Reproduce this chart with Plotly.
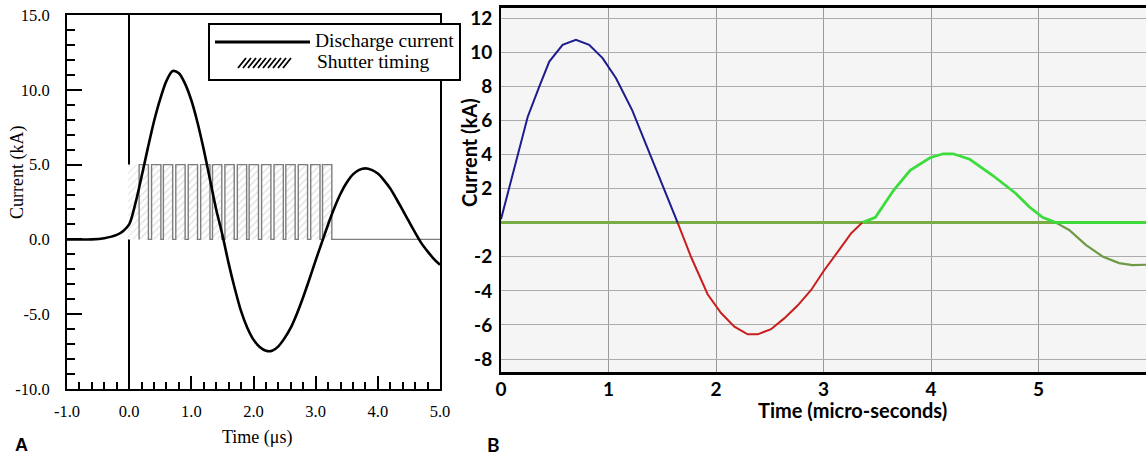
import plotly.graph_objects as go

W, H = 1146, 457

# ---------------- Panel A data ----------------
a_time = [-1.0, -0.8, -0.6, -0.4, -0.2, -0.1, 0.0, 0.1, 0.2, 0.3, 0.4, 0.5, 0.6, 0.7, 0.8, 0.9,
          1.0, 1.1, 1.2, 1.3, 1.4, 1.5, 1.6, 1.7, 1.8, 1.9, 2.0, 2.1, 2.2, 2.3, 2.4, 2.5,
          2.6, 2.7, 2.8, 2.9, 3.0, 3.1, 3.2, 3.3, 3.4, 3.5, 3.6, 3.7, 3.8, 3.9, 4.0, 4.1,
          4.2, 4.3, 4.4, 4.5, 4.6, 4.7, 4.8, 4.9, 5.0]
a_current = [0.0, 0.0, 0.0, 0.08, 0.3, 0.55, 1.0, 2.4, 4.2, 6.1, 7.9, 9.4, 10.6, 11.25, 11.1, 10.4,
             9.3, 7.8, 6.0, 4.0, 2.0, 0.3, -1.6, -3.3, -4.8, -5.9, -6.7, -7.2, -7.45, -7.45, -7.15, -6.6,
             -5.9, -4.95, -3.85, -2.65, -1.4, -0.2, 1.0, 2.1, 3.05, 3.8, 4.35, 4.65, 4.75, 4.65, 4.4, 3.95,
             3.4, 2.7, 1.95, 1.2, 0.45, -0.25, -0.8, -1.3, -1.7]
shutter_on = [0.16, 0.36, 0.55, 0.75, 0.95, 1.15, 1.34, 1.54, 1.74, 1.93, 2.13, 2.33, 2.52, 2.72, 2.92, 3.11]
shutter_off = [0.31, 0.51, 0.70, 0.90, 1.10, 1.30, 1.49, 1.69, 1.89, 2.08, 2.28, 2.48, 2.67, 2.87, 3.07, 3.26]
shutter_level = 5.0
shutter_lead = [-0.02, 0.16]
shutter_tail_end = 5.0

a_xticks = [-1.0, 0.0, 1.0, 2.0, 3.0, 4.0, 5.0]
a_xticktext = ["-1.0", "0.0", "1.0", "2.0", "3.0", "4.0", "5.0"]
a_yticks = [-10, -5, 0, 5, 10, 15]
a_yticktext = ["-10.0", "-5.0", "0.0", "5.0", "10.0", "15.0"]

# ---------------- Panel B data ----------------
b_blue_t = [0.0, 0.077, 0.155, 0.248, 0.356, 0.449, 0.573, 0.697, 0.82, 0.945, 1.07, 1.22, 1.47, 1.643]
b_blue_v = [0.2, 2.1, 4.07, 6.2, 7.98, 9.45, 10.43, 10.72, 10.43, 9.65, 8.47, 6.6, 2.7, 0.0]
b_red_t = [1.643, 1.767, 1.922, 2.047, 2.171, 2.295, 2.388, 2.512, 2.637, 2.761, 2.885, 3.0, 3.134, 3.258, 3.36]
b_red_v = [0.0, -2.0, -4.2, -5.3, -6.1, -6.55, -6.55, -6.25, -5.6, -4.85, -3.95, -2.85, -1.7, -0.62, 0.0]
b_green_t = [3.36, 3.483, 3.652, 3.806, 3.991, 4.114, 4.206, 4.36, 4.572, 4.789, 4.913, 5.037, 5.161, 6.0]
b_green_v = [0.0, 0.31, 1.9, 3.07, 3.81, 4.04, 4.04, 3.72, 2.78, 1.71, 0.93, 0.31, 0.0, 0.0]
b_olive_t = [5.161, 5.285, 5.44, 5.595, 5.75, 5.874, 6.0]
b_olive_v = [0.0, -0.43, -1.3, -1.98, -2.37, -2.49, -2.47]

b_xticks = [0, 1, 2, 3, 4, 5]
b_xticktext = ["0", "1", "2", "3", "4", "5"]
b_yticks = [-8, -6, -4, -2, 2, 4, 6, 8, 10, 12]
b_yticktext = ["-8", "-6", "-4", "-2", "2", "4", "6", "8", "10", "12"]


def px(x):
    return x / W


def py(y):
    return 1 - y / H


SERIF = "Liberation Serif"
SANS = "Lato"

fig = go.Figure()

# shutter lead-in (hatched, no outline)
fig.add_trace(go.Scatter(
    x=[shutter_lead[0], shutter_lead[0], shutter_lead[1], shutter_lead[1], shutter_lead[0]],
    y=[0, shutter_level, shutter_level, 0, 0],
    mode="lines", line=dict(width=0, color="rgba(0,0,0,0)"),
    fill="toself", fillcolor="white",
    fillpattern=dict(shape="/", fgcolor="#d0d0d0", bgcolor="white", size=5, solidity=0.25),
    xaxis="x", yaxis="y", showlegend=False, hoverinfo="skip"))

# shutter timing square wave
sx, sy = [], []
for on, off in zip(shutter_on, shutter_off):
    sx += [on, on, off, off]
    sy += [0, shutter_level, shutter_level, 0]
sx.append(shutter_tail_end)
sy.append(0)
fig.add_trace(go.Scatter(
    x=sx, y=sy, mode="lines", name="Shutter timing",
    line=dict(color="#7d7d7d", width=1.4),
    fill="tozeroy", fillcolor="white",
    fillpattern=dict(shape="/", fgcolor="#c4c4c4", bgcolor="white", size=5, solidity=0.28),
    xaxis="x", yaxis="y", showlegend=False))

# discharge current
fig.add_trace(go.Scatter(
    x=a_time, y=a_current, mode="lines", name="Discharge current",
    line=dict(color="black", width=2.6, shape="spline", smoothing=0.8),
    xaxis="x", yaxis="y", showlegend=False))

# Panel B traces
fig.add_trace(go.Scatter(x=b_olive_t, y=b_olive_v, mode="lines",
                         line=dict(color="#6f9a45", width=2.2),
                         xaxis="x2", yaxis="y2", showlegend=False))
fig.add_trace(go.Scatter(x=b_green_t, y=b_green_v, mode="lines",
                         line=dict(color="#3ddc3d", width=2.8),
                         xaxis="x2", yaxis="y2", showlegend=False))
fig.add_trace(go.Scatter(x=b_red_t, y=b_red_v, mode="lines",
                         line=dict(color="#c81e1e", width=2),
                         xaxis="x2", yaxis="y2", showlegend=False))
fig.add_trace(go.Scatter(x=b_blue_t, y=b_blue_v, mode="lines",
                         line=dict(color="#1c1c8e", width=2),
                         xaxis="x2", yaxis="y2", showlegend=False))

serif_tick = dict(family=SERIF, size=16.5, color="black")
sans_tick = dict(family=SANS, size=19, color="black", weight="bold")

fig.update_layout(
    width=W, height=H, margin=dict(l=0, r=0, t=0, b=0, pad=0, autoexpand=False),
    paper_bgcolor="white", plot_bgcolor="white",
    xaxis=dict(domain=[px(67), px(440)], range=[-1, 5], showgrid=False, automargin=False,
               zeroline=True, zerolinecolor="black", zerolinewidth=1.8,
               showline=True, linecolor="black", linewidth=2, mirror=True,
               tickvals=a_xticks, ticktext=a_xticktext, ticks="inside", ticklen=13,
               tickwidth=1.5, tickcolor="black", tickfont=serif_tick, ticklabelstandoff=6,
               minor=dict(dtick=0.2, tick0=-1, ticks="inside", ticklen=7, tickwidth=1.5,
                          tickcolor="black", showgrid=False)),
    yaxis=dict(domain=[py(389), py(15)], range=[-10, 15], showgrid=False, zeroline=False,
               automargin=False,
               showline=True, linecolor="black", linewidth=2, mirror=True,
               tickvals=a_yticks, ticktext=a_yticktext, ticks="inside", ticklen=15,
               tickwidth=1.5, tickcolor="black", tickfont=serif_tick, ticklabelstandoff=12,
               minor=dict(dtick=1, tick0=0, ticks="inside", ticklen=8, tickwidth=1.5,
                          tickcolor="black", showgrid=False)),
    xaxis2=dict(domain=[px(501), 1.0], range=[0, 6], anchor="y2", automargin=False,
                showgrid=True, gridcolor="#9a9a9a", gridwidth=1, zeroline=False,
                showline=True, linecolor="black", linewidth=3, mirror=True,
                tickvals=b_xticks, ticktext=b_xticktext, ticks="",
                tickfont=sans_tick, ticklabelstandoff=-2),
    yaxis2=dict(domain=[py(372), py(7.5)], range=[-8.76, 12.62], anchor="x2", automargin=False,
                showgrid=True, gridcolor="#ababab", gridwidth=1,
                zeroline=True, zerolinecolor="#78ad45", zerolinewidth=3,
                showline=True, linecolor="black", linewidth=2, mirror=False,
                tickvals=b_yticks, ticktext=b_yticktext, ticks="",
                tickfont=sans_tick, ticklabelstandoff=3),
)

# panel B plot background
fig.add_shape(type="rect", xref="x2 domain", yref="y2 domain", x0=0, x1=1, y0=0, y1=1,
              fillcolor="#f5f5f5", line=dict(width=0), layer="below")

# Panel A legend (box, line glyph, hatched glyph)
fig.add_shape(type="rect", xref="paper", yref="paper",
              x0=px(209), x1=px(460), y0=py(80), y1=py(24),
              fillcolor="white", line=dict(color="black", width=2), layer="above")
fig.add_shape(type="line", xref="paper", yref="paper",
              x0=px(215), x1=px(310), y0=py(42), y1=py(42),
              line=dict(color="black", width=3), layer="above")
hatch = ""
for i in range(10):
    x0 = 238 + i * 5
    hatch += f"M{px(x0)},{py(68)} L{px(x0 + 8)},{py(58)} "
fig.add_shape(type="path", xref="paper", yref="paper", path=hatch,
              line=dict(color="black", width=1.8), layer="above")

ann = []
ann.append(dict(text="Discharge current", x=px(313), y=py(41), xref="paper", yref="paper",
                xanchor="left", yanchor="middle", showarrow=False,
                font=dict(family=SERIF, size=19.5, color="black")))
ann.append(dict(text="Shutter timing", x=px(315), y=py(62), xref="paper", yref="paper",
                xanchor="left", yanchor="middle", showarrow=False,
                font=dict(family=SERIF, size=19.5, color="black")))
# axis titles
ann.append(dict(text="Current (kA)", x=px(17), y=py(173), xref="paper", yref="paper",
                textangle=-90, xanchor="center", yanchor="middle", showarrow=False,
                font=dict(family=SERIF, size=18, color="black")))
ann.append(dict(text="Time (\u03bcs)", x=px(257), y=py(437), xref="paper", yref="paper",
                xanchor="center", yanchor="middle", showarrow=False,
                font=dict(family=SERIF, size=18, color="black")))
ann.append(dict(text="Current (kA)", x=px(469), y=py(153), xref="paper", yref="paper",
                textangle=-90, xanchor="center", yanchor="middle", showarrow=False,
                font=dict(family=SANS, size=20, color="black", weight="bold")))
ann.append(dict(text="Time (micro-seconds)", x=px(852), y=py(410), xref="paper", yref="paper",
                xanchor="center", yanchor="middle", showarrow=False,
                font=dict(family=SANS, size=20, color="black", weight="bold")))
# panel letters
ann.append(dict(text="A", x=px(21), y=py(445), xref="paper", yref="paper",
                xanchor="center", yanchor="middle", showarrow=False,
                font=dict(family="Liberation Sans", size=18, color="black", weight="bold")))
ann.append(dict(text="B", x=px(493), y=py(444), xref="paper", yref="paper",
                xanchor="center", yanchor="middle", showarrow=False,
                font=dict(family=SANS, size=19, color="black", weight="bold")))
fig.update_layout(annotations=ann)

fig.write_html("out.html")
